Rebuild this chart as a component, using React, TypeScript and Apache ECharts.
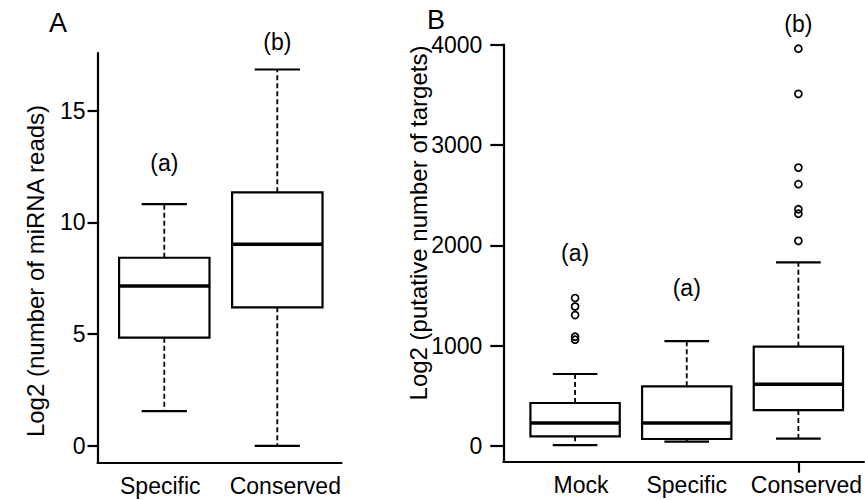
import React, { useEffect, useRef } from "react";
import * as echarts from "echarts";

const FONT = '"Liberation Sans", Arial, Helvetica, sans-serif';

// Panel A: Log2 (number of miRNA reads)
const catsA = ["Specific", "Conserved"];
// [x, min, Q1, median, Q3, max]
const boxesA = [
  [1, 1.55, 4.84, 7.15, 8.42, 10.82],
  [2, 0.0, 6.2, 9.02, 11.35, 16.85],
];
const ticksA = [0, 5, 10, 15];
const lettersA = [
  [1, 12.66, "(a)"],
  [2, 18.08, "(b)"],
];

// Panel B: Log2 (putative number of targets)
const catsB = ["Mock", "Specific", "Conserved"];
const boxesB = [
  [1, 10, 97, 229, 429, 718],
  [2, 45, 70, 229, 595, 1045],
  [3, 73, 359, 615, 990, 1830],
];
const outliersMock = [1475, 1390, 1305, 1090, 1060];
const outliersConserved = [3960, 3510, 2775, 2610, 2360, 2315, 2045];
const ticksB = [0, 1000, 2000, 3000, 4000];
const lettersB = [
  [1, 1927, "(a)"],
  [2, 1572, "(a)"],
  [3, 4211, "(b)"],
];

const BOX_W = 0.8;

function renderBox(params: any, api: any) {
  const x = api.value(0);
  const lo = api.coord([x, api.value(1)]);
  const q1 = api.coord([x, api.value(2)]);
  const md = api.coord([x, api.value(3)]);
  const q3 = api.coord([x, api.value(4)]);
  const hi = api.coord([x, api.value(5)]);
  const half = api.size([BOX_W, 0])[0] / 2;
  const cx = md[0];
  const black = "#000";
  const dash = { stroke: black, lineWidth: 1.8, lineDash: [5, 3] };
  const solid = { stroke: black, lineWidth: 2.2 };
  return {
    type: "group",
    children: [
      { type: "line", shape: { x1: cx, y1: q3[1], x2: cx, y2: hi[1] }, style: dash },
      { type: "line", shape: { x1: cx, y1: q1[1], x2: cx, y2: lo[1] }, style: dash },
      { type: "line", shape: { x1: cx - half / 2, y1: hi[1], x2: cx + half / 2, y2: hi[1] }, style: solid },
      { type: "line", shape: { x1: cx - half / 2, y1: lo[1], x2: cx + half / 2, y2: lo[1] }, style: solid },
      {
        type: "rect",
        shape: { x: cx - half, y: q3[1], width: 2 * half, height: q1[1] - q3[1] },
        style: { fill: "#fff", stroke: black, lineWidth: 2.2 },
      },
      { type: "line", shape: { x1: cx - half, y1: md[1], x2: cx + half, y2: md[1] }, style: { stroke: black, lineWidth: 3.5 } },
    ],
  };
}

const axisLine = { show: true, onZero: false, lineStyle: { color: "#000", width: 2.2 } };
const labelBase = { color: "#000", fontSize: 23, fontFamily: FONT };

function shiftedLabel(names: string[], shifts: number[]) {
  const rich: any = {};
  names.forEach((n, i) => {
    const s = shifts[i];
    rich["l" + i] = {
      ...labelBase,
      padding: s >= 0 ? [0, 0, 0, 2 * s] : [0, -2 * s, 0, 0],
    };
  });
  return {
    formatter: (v: number) => {
      const i = Math.round(v) - 1;
      return "{l" + i + "|" + names[i] + "}";
    },
    rich,
  };
}

const plainNum = (v: number) => String(Math.round(v));

const letterLabel = {
  show: true,
  position: "inside",
  formatter: (p: any) => p.value[2],
  color: "#000",
  fontSize: 23,
  fontFamily: FONT,
  textBorderWidth: 0,
  opacity: 1,
};

const letterSeries = (gi: number, data: any[]) => ({
  type: "scatter",
  xAxisIndex: gi,
  yAxisIndex: gi,
  symbolSize: 0,
  itemStyle: { color: "#000", opacity: 1 },
  label: letterLabel,
  emphasis: { disabled: true },
  data,
  clip: false,
});

const textStyle = (text: string, size: number) => ({
  text,
  fill: "#000",
  fontSize: size,
  fontFamily: FONT,
  align: "center",
  verticalAlign: "middle",
  textAlign: "center",
  textVerticalAlign: "middle",
});

export default function App() {
  const ref = useRef<HTMLDivElement>(null);
  useEffect(() => {
    if (!ref.current) return;
    const chart = echarts.init(ref.current, null, { renderer: "svg" });
    chart.setOption({
      animation: false,
      backgroundColor: "#fff",
      textStyle: { fontFamily: FONT },
      grid: [
        { left: 97.5, top: 53, width: 244, height: 409.3 },
        { left: 503.3, top: 44.7, width: 361.7, height: 417 },
      ],
      xAxis: [
        {
          type: "value",
          gridIndex: 0,
          min: 0.409,
          max: 2.568,
          axisLine,
          axisTick: { show: false },
          splitLine: { show: false },
          axisLabel: {
            ...labelBase,
            margin: 12,
            customValues: [1, 2],
            ...shiftedLabel(catsA, [-4, 8]),
          },
        },
        {
          type: "value",
          gridIndex: 1,
          min: 0.357,
          max: 3.587,
          axisLine,
          axisTick: { show: true, customValues: [3], length: 11, lineStyle: { color: "#000", width: 2.2 } },
          splitLine: { show: false },
          axisLabel: {
            ...labelBase,
            margin: 12,
            customValues: [1, 2, 3],
            ...shiftedLabel(catsB, [6, 0, 8]),
          },
        },
      ],
      yAxis: [
        {
          type: "value",
          gridIndex: 0,
          min: -0.74,
          max: 17.59,
          axisLine,
          axisTick: { show: true, customValues: ticksA, length: 10, lineStyle: { color: "#000", width: 2.2 } },
          splitLine: { show: false },
          axisLabel: { ...labelBase, margin: 12, customValues: ticksA, formatter: plainNum },
        },
        {
          type: "value",
          gridIndex: 1,
          min: -156,
          max: 4000,
          axisLine,
          axisTick: { show: true, customValues: ticksB, length: 13, lineStyle: { color: "#000", width: 2.2 } },
          splitLine: { show: false },
          axisLabel: { ...labelBase, margin: 21, customValues: ticksB, formatter: plainNum },
        },
      ],
      series: [
        {
          type: "custom",
          xAxisIndex: 0,
          yAxisIndex: 0,
          renderItem: renderBox,
          encode: { x: 0, y: [1, 2, 3, 4, 5] },
          data: boxesA,
          clip: false,
        },
        letterSeries(0, lettersA),
        {
          type: "custom",
          xAxisIndex: 1,
          yAxisIndex: 1,
          renderItem: renderBox,
          encode: { x: 0, y: [1, 2, 3, 4, 5] },
          data: boxesB,
          clip: false,
        },
        {
          type: "scatter",
          xAxisIndex: 1,
          yAxisIndex: 1,
          symbol: "circle",
          symbolSize: 7,
          itemStyle: { color: "transparent", borderColor: "#000", borderWidth: 1.7, opacity: 1 },
          emphasis: { disabled: true },
          data: [
            ...outliersMock.map((v) => [1, v]),
            ...outliersConserved.map((v) => [3, v]),
          ],
          clip: false,
        },
        letterSeries(1, lettersB),
      ],
      graphic: [
        { type: "text", x: 58, y: 23, style: textStyle("A", 27) },
        { type: "text", x: 436, y: 20, style: textStyle("B", 27) },
        {
          type: "text",
          x: 35,
          y: 271,
          rotation: Math.PI / 2,
          style: textStyle("Log2 (number of miRNA reads)", 24),
        },
        {
          type: "text",
          x: 418,
          y: 223,
          rotation: Math.PI / 2,
          style: textStyle("Log2 (putative number of targets)", 24),
        },
      ],
    });
    return () => chart.dispose();
  }, []);
  return (
    <div
      ref={ref}
      style={{ position: "absolute", left: 0, top: 0, width: 865, height: 500 }}
    />
  );
}
